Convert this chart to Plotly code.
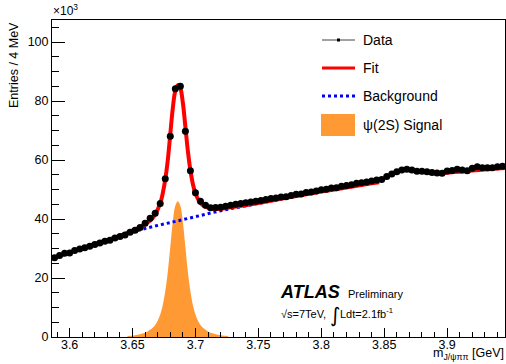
import plotly.graph_objects as go

# ---------------- data (values in units of 10^3 entries / 4 MeV) ----------------
bin_centers = [round(3.588 + 0.004 * k, 3) for k in range(90)]
data_vals = [
    26.9, 27.6, 28.4, 28.5, 29.3, 29.8, 30.3, 30.8, 31.4, 31.9,
    32.5, 32.8, 33.6, 34.1, 34.6, 35.5, 36.2, 37.1, 38.6, 40.3,
    42.0, 45.3, 53.7, 68.1, 84.2, 85.0, 69.8, 56.4, 48.9, 46.0,
    44.7, 43.8, 43.9, 44.0, 44.3, 44.7, 45.0, 45.3, 45.5, 45.8,
    46.0, 46.3, 46.6, 47.0, 47.1, 47.5, 47.6, 48.0, 48.4, 48.5,
    49.0, 49.2, 49.5, 49.9, 50.1, 50.5, 50.6, 51.1, 51.4, 51.6,
    52.1, 52.3, 52.6, 52.9, 53.2, 53.4, 54.4, 55.3, 56.0, 56.6,
    56.9, 56.6, 56.2, 56.2, 56.0, 55.8, 55.6, 55.5, 56.3, 56.5,
    56.9, 56.6, 56.4, 57.2, 57.7, 57.4, 57.4, 57.4, 57.7, 57.9,
]

fit_m = [3.586, 3.60, 3.62, 3.64, 3.65, 3.656, 3.66, 3.664, 3.668, 3.672,
         3.674, 3.676, 3.678, 3.680, 3.682, 3.684, 3.686, 3.688, 3.690, 3.692,
         3.694, 3.696, 3.698, 3.700, 3.704, 3.708, 3.712, 3.716, 3.720, 3.728,
         3.74, 3.76, 3.78, 3.80, 3.82, 3.84, 3.846, None,
         3.895, 3.90, 3.92, 3.94, 3.946]
fit_v = [26.7, 28.7, 31.5, 34.3, 36.1, 37.2, 38.3, 39.5, 41.6, 45.3,
         48.7, 53.4, 59.9, 68.8, 77.6, 83.5, 85.4, 84.3, 79.4, 71.3,
         63.0, 56.5, 51.8, 48.7, 45.4, 44.2, 43.6, 43.4, 43.5, 44.0,
         44.7, 46.2, 47.8, 49.3, 50.7, 52.1, 52.5, None,
         55.5, 55.7, 56.5, 57.1, 57.3]

bkg_m = [3.586, 3.60, 3.62, 3.64, 3.66, 3.68, 3.70, 3.72, 3.74, 3.76]
bkg_v = [26.7, 28.7, 31.5, 34.2, 36.8, 38.8, 40.8, 42.8, 44.5, 46.1]

sig_m = [3.646, 3.652, 3.658, 3.662, 3.666, 3.668, 3.670, 3.672, 3.674, 3.676,
         3.678, 3.680, 3.682, 3.684, 3.686, 3.688, 3.690, 3.692, 3.694, 3.696,
         3.698, 3.700, 3.702, 3.704, 3.706, 3.710, 3.714, 3.720, 3.726]
sig_v = [0.3, 0.6, 1.2, 1.9, 3.1, 4.1, 5.5, 7.6, 10.8, 15.5,
         22.0, 30.5, 39.0, 44.5, 46.0, 44.5, 39.0, 30.5, 22.0, 15.5,
         10.8, 7.6, 5.5, 4.1, 3.1, 1.9, 1.2, 0.6, 0.3]

legend_labels = ["Data", "Fit", "Background", "ψ(2S) Signal"]

X_RANGE = [3.586, 3.946]
Y_RANGE = [0, 107.5]

# ---------------- figure ----------------
FONT = "Liberation Sans, Arial, Helvetica, sans-serif"
ORANGE = "#ff9933"

fig = go.Figure()
fig.add_trace(go.Scatter(x=sig_m, y=sig_v, mode="lines", line=dict(width=0, shape="spline", color=ORANGE),
                         fill="tozeroy", fillcolor=ORANGE, hoverinfo="skip", showlegend=False))
fig.add_trace(go.Scatter(x=bkg_m, y=bkg_v, mode="lines",
                         line=dict(color="#0000ff", width=3, dash="dot", shape="spline"), showlegend=False))
fig.add_trace(go.Scatter(x=fit_m, y=fit_v, mode="lines", connectgaps=False,
                         line=dict(color="#ff0000", width=4, shape="spline"), showlegend=False))
fig.add_trace(go.Scatter(x=bin_centers, y=data_vals, mode="markers",
                         marker=dict(color="black", size=7, symbol="circle"), showlegend=False))

W, H = 506, 364
L, R, T, B = 52, 505, 20, 337
PW, PH = R - L, B - T


def px(xp):
    return (xp - L) / PW


def py(yp):
    return (B - yp) / PH


# manual legend (ROOT style)
sym_x0, sym_x1 = 322, 355
rows_y = [40, 68, 96, 125]
shapes = [
    dict(type="line", xref="paper", yref="paper", x0=px(sym_x0), x1=px(sym_x1), y0=py(rows_y[0]), y1=py(rows_y[0]),
         line=dict(color="#444444", width=1)),
    dict(type="rect", xref="paper", yref="paper", x0=px(337), x1=px(340), y0=py(rows_y[0] - 1.5), y1=py(rows_y[0] + 1.5),
         fillcolor="black", line=dict(width=0)),
    dict(type="line", xref="paper", yref="paper", x0=px(sym_x0), x1=px(sym_x1), y0=py(rows_y[1]), y1=py(rows_y[1]),
         line=dict(color="#ff0000", width=3)),
    dict(type="line", xref="paper", yref="paper", x0=px(sym_x0), x1=px(sym_x1), y0=py(rows_y[2]), y1=py(rows_y[2]),
         line=dict(color="#0000ff", width=3, dash="dot")),
    dict(type="rect", xref="paper", yref="paper", x0=px(321), x1=px(355), y0=py(114), y1=py(136),
         fillcolor=ORANGE, line=dict(width=0)),
]

annotations = []
for lab, yy in zip(legend_labels, rows_y):
    annotations.append(dict(text=lab, xref="paper", yref="paper", x=px(361), y=py(yy), xanchor="left",
                            yanchor="middle", showarrow=False, font=dict(family=FONT, size=14, color="black")))

annotations += [
    dict(text="<b><i>ATLAS</i></b>", xref="paper", yref="paper", x=px(278), y=py(292), xanchor="left",
         yanchor="middle", showarrow=False, font=dict(family=FONT, size=18, color="black")),
    dict(text="Preliminary", xref="paper", yref="paper", x=px(346), y=py(294), xanchor="left",
         yanchor="middle", showarrow=False, font=dict(family=FONT, size=11, color="black")),
    dict(text="√s=7TeV,", xref="paper", yref="paper", x=px(279), y=py(314), xanchor="left",
         yanchor="middle", showarrow=False, font=dict(family=FONT, size=11, color="black")),
    dict(text="∫", xref="paper", yref="paper", x=px(328), y=py(315), xanchor="left",
         yanchor="middle", showarrow=False, font=dict(family="DejaVu Sans", size=20, color="black")),
    dict(text="Ldt=2.1fb<sup>-1</sup>", xref="paper", yref="paper", x=px(338), y=py(313), xanchor="left",
         yanchor="middle", showarrow=False, font=dict(family=FONT, size=11, color="black")),
    dict(text="×10<sup>3</sup>", xref="paper", yref="paper", x=px(51), y=py(20), xanchor="left",
         yanchor="bottom", showarrow=False, font=dict(family=FONT, size=12, color="black")),
    dict(text="Entries / 4 MeV", xref="paper", yref="paper", x=px(14), y=py(20), xanchor="center",
         yanchor="top", textangle=-90, showarrow=False, font=dict(family=FONT, size=12.5, color="black")),
    dict(text="m<sub>J/ψππ</sub> [GeV]", xref="paper", yref="paper", x=px(506), y=py(364), xanchor="right",
         yanchor="bottom", showarrow=False, font=dict(family=FONT, size=12.5, color="black")),
]

fig.update_layout(
    width=W, height=H,
    margin=dict(l=L, r=W - R, t=T, b=H - B, pad=0),
    paper_bgcolor="white", plot_bgcolor="white",
    showlegend=False,
    shapes=shapes,
    annotations=annotations,
    font=dict(family=FONT, size=12.5, color="black"),
    xaxis=dict(range=X_RANGE, tick0=3.6, dtick=0.05, ticks="inside", ticklen=9, tickcolor="black",
               showline=True, linecolor="black", linewidth=1, mirror=True, showgrid=False, zeroline=False,
               tickfont=dict(family=FONT, size=12.5, color="black"), ticklabelstandoff=-4,
               minor=dict(ticks="inside", dtick=0.01, tick0=3.6, ticklen=5, tickcolor="black", showgrid=False)),
    yaxis=dict(range=Y_RANGE, tick0=0, dtick=20, ticks="inside", ticklen=13, tickcolor="black",
               showline=True, linecolor="black", linewidth=1, mirror=True, showgrid=False, zeroline=False,
               tickfont=dict(family=FONT, size=12.5, color="black"),
               minor=dict(ticks="inside", dtick=5, tick0=0, ticklen=7, tickcolor="black", showgrid=False)),
)

fig.write_html("out.html")
